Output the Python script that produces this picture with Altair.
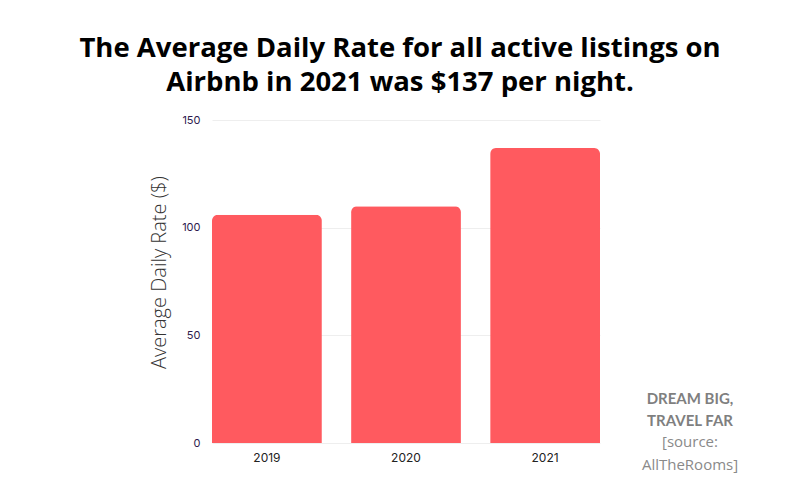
import altair as alt
import pandas as pd

years = ["2019", "2020", "2021"]
rates = [106, 110, 137]
title_lines = ["The Average Daily Rate for all active listings on",
               "Airbnb in 2021 was $137 per night."]
brand_lines = ["DREAM BIG,", "TRAVEL FAR"]
source_lines = ["[source:", "AllTheRooms]"]

df = pd.DataFrame({"year": years, "rate": rates})

bars = alt.Chart(df).mark_bar(
    color="#FF5A5F", cornerRadiusTopLeft=6, cornerRadiusTopRight=6
).encode(
    x=alt.X("year:N", title=None,
            scale=alt.Scale(paddingInner=0.21, paddingOuter=0),
            axis=alt.Axis(labelAngle=0, labelFont="Inter", labelFontSize=12,
                          labelColor="#222222", labelPadding=9,
                          domain=False, ticks=False)),
    y=alt.Y("rate:Q", title="Average Daily Rate ($)",
            scale=alt.Scale(domain=[0, 150]),
            axis=alt.Axis(values=[0, 50, 100, 150], labelFont="Inter",
                          labelFontSize=11, labelColor="#2d1b4e",
                          labelPadding=12, domain=False, ticks=False,
                          gridColor="#eeeeee", titleFont="Open Sans",
                          titleFontWeight=300, titleFontSize=20,
                          titleColor="#333333", titlePadding=12,
                          titleY=152)),
)

one = alt.Data(values=[{}])
brand = alt.Chart(one).mark_text(
    font="Lato", fontWeight="bold", fontSize=15, color="#7f7f7f",
    align="center", baseline="middle", lineHeight=22
).encode(x=alt.value(478), y=alt.value(279), text=alt.value(brand_lines))

source = alt.Chart(one).mark_text(
    font="Open Sans", fontSize=15, color="#8a8a8a",
    align="center", baseline="middle", lineHeight=23
).encode(x=alt.value(478), y=alt.value(322), text=alt.value(source_lines))

chart = alt.layer(bars, brand, source).properties(
    width=388, height=323,
    title=alt.Title(title_lines, font="Open Sans", fontSize=27.5,
                    fontWeight="bold", color="#000000", lineHeight=34,
                    anchor="middle", frame="group", offset=18, dx=-6),
    autosize=alt.AutoSizeParams(type="none"),
    padding={"left": 204, "top": 112, "right": 192, "bottom": 49},
).configure_view(stroke=None)

chart.save("out.html", embed_options={"renderer": "svg", "actions": False})
